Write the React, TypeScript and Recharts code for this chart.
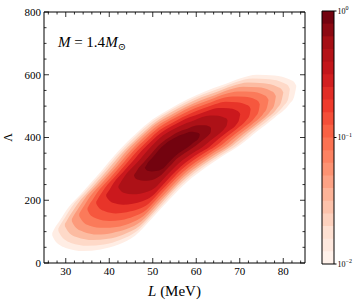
import { Area, ComposedChart, Label, ReferenceArea, ReferenceDot, XAxis, YAxis } from "recharts"

// contour rows: [L (MeV), lower Λ, upper Λ], outermost (1e-2) level first
type Row = [number, number, number]

const level0: Row[] = [
  [26.9, 88, 96], [27.5, 72, 112], [28.5, 58, 132], [30, 48, 165], [34, 38, 228],
  [38, 43, 290], [42, 58, 355], [46, 88, 410], [50, 145, 458], [54, 205, 492],
  [58, 260, 522], [62, 303, 547], [66, 340, 567], [70, 375, 588], [74, 420, 600],
  [78, 463, 598], [81.5, 508, 585], [82.5, 530, 577], [83, 563, 565],
]
const level1: Row[] = [
  [28.3, 102, 110], [28.9, 87, 125], [29.8, 74, 144], [31.2, 64, 175], [35.0, 55, 235],
  [38.8, 59, 294], [42.6, 74, 355], [46.4, 102, 408], [50.2, 156, 453], [54.0, 213, 486],
  [57.8, 265, 514], [61.6, 306, 538], [65.4, 341, 557], [69.2, 374, 577], [73.0, 417, 588],
  [76.8, 458, 586], [80.1, 501, 574], [81.1, 522, 566], [81.5, 553, 555],
]
const level2: Row[] = [
  [29.8, 117, 125], [30.4, 103, 139], [31.2, 91, 157], [32.6, 82, 186], [36.2, 73, 243],
  [39.7, 77, 298], [43.3, 91, 356], [46.9, 117, 405], [50.5, 168, 448], [54.0, 222, 479],
  [57.6, 271, 505], [61.2, 310, 528], [64.8, 343, 546], [68.3, 374, 564], [71.9, 414, 575],
  [75.5, 453, 573], [78.6, 493, 562], [79.5, 513, 555], [80.0, 542, 544],
]
const level3: Row[] = [
  [31.4, 133, 140], [31.9, 120, 153], [32.7, 108, 170], [34.0, 100, 198], [37.3, 91, 250],
  [40.7, 96, 302], [44.0, 108, 357], [47.4, 133, 403], [50.7, 181, 443], [54.1, 231, 471],
  [57.4, 277, 496], [60.8, 313, 517], [64.1, 344, 534], [67.5, 373, 552], [70.8, 411, 562],
  [74.2, 447, 560], [77.1, 485, 549], [77.9, 503, 542], [78.3, 531, 532],
]
const level4: Row[] = [
  [33.1, 150, 157], [33.6, 138, 169], [34.3, 127, 184], [35.5, 119, 210], [38.6, 112, 259],
  [41.7, 115, 307], [44.8, 127, 357], [47.9, 150, 400], [51.0, 195, 437], [54.1, 241, 463],
  [57.2, 284, 487], [60.3, 317, 506], [63.4, 346, 522], [66.5, 373, 538], [69.6, 408, 547],
  [72.7, 441, 546], [75.4, 476, 536], [76.2, 493, 529], [76.6, 518, 520],
]
const level5: Row[] = [
  [35.0, 169, 175], [35.4, 158, 186], [36.1, 148, 200], [37.2, 141, 224], [40.0, 134, 268],
  [42.8, 137, 312], [45.6, 148, 358], [48.5, 169, 397], [51.3, 210, 431], [54.1, 252, 455],
  [57.0, 291, 476], [59.8, 321, 494], [62.6, 347, 508], [65.4, 372, 523], [68.3, 404, 531],
  [71.1, 434, 530], [73.6, 466, 521], [74.3, 482, 515], [74.6, 505, 506],
]
const level6: Row[] = [
  [37.0, 190, 195], [37.4, 180, 205], [38.0, 171, 218], [39.0, 165, 239], [41.5, 158, 278],
  [44.0, 162, 318], [46.6, 171, 359], [49.1, 190, 393], [51.6, 226, 424], [54.2, 264, 445],
  [56.7, 299, 464], [59.2, 326, 480], [61.7, 349, 493], [64.3, 371, 506], [66.8, 400, 514],
  [69.3, 427, 512], [71.5, 455, 504], [72.2, 469, 499], [72.5, 490, 491],
]
const level7: Row[] = [
  [39.3, 213, 218], [39.7, 204, 226], [40.2, 197, 237], [41.0, 191, 255], [43.2, 186, 290],
  [45.4, 189, 324], [47.6, 197, 360], [49.8, 213, 390], [52.0, 244, 416], [54.2, 277, 435],
  [56.4, 307, 451], [58.6, 331, 465], [60.8, 351, 476], [63.0, 370, 487], [65.1, 395, 494],
  [67.3, 419, 493], [69.3, 443, 486], [69.8, 455, 481], [70.1, 473, 475],
]
const level8: Row[] = [
  [42.1, 241, 245], [42.4, 234, 252], [42.8, 228, 261], [43.5, 223, 276], [45.3, 219, 304],
  [47.1, 221, 331], [48.9, 228, 360], [50.6, 241, 385], [52.4, 267, 407], [54.2, 293, 422],
  [56.0, 318, 435], [57.8, 337, 446], [59.6, 354, 455], [61.4, 369, 465], [63.2, 390, 470],
  [65.0, 409, 469], [66.5, 429, 463], [67.0, 439, 460], [67.2, 453, 454],
]
const level9: Row[] = [
  [45.7, 278, 280], [45.9, 272, 285], [46.2, 268, 291], [46.7, 265, 302], [48.0, 262, 322],
  [49.2, 263, 341], [50.5, 268, 362], [51.7, 278, 379], [53.0, 296, 394], [54.3, 314, 405],
  [55.5, 332, 415], [56.8, 345, 423], [58.1, 357, 429], [59.3, 368, 436], [60.6, 382, 439],
  [61.9, 396, 439], [63.0, 410, 435], [63.3, 417, 432], [63.4, 428, 428],
]
const level10: Row[] = [
  [48.2, 303, 305], [48.4, 299, 308], [48.6, 296, 313], [48.9, 294, 320], [49.8, 292, 334],
  [50.7, 293, 348], [51.6, 296, 363], [52.5, 303, 375], [53.4, 316, 386], [54.3, 329, 393],
  [55.2, 341, 400], [56.1, 351, 406], [57.0, 359, 410], [57.9, 367, 415], [58.8, 377, 418],
  [59.7, 387, 417], [60.5, 397, 414], [60.7, 402, 412], [60.8, 409, 410],
]

const levels = [level0, level1, level2, level3, level4, level5, level6, level7, level8, level9, level10]
const levelColors = [
  "#ffede4", "#fed9c8", "#fcbba1", "#fc9a7b", "#fb7a5a", "#f6573e",
  "#e83429", "#cb181d", "#ad1117", "#8c0912", "#73030f",
]

const xTicks = [30, 40, 50, 60, 70, 80]
const xMinor = [26, 28, 32, 34, 36, 38, 42, 44, 46, 48, 52, 54, 56, 58, 62, 64, 66, 68, 72, 74, 76, 78, 82, 84]
const yTicks = [0, 200, 400, 600, 800]
const yMinor = [50, 100, 150, 250, 300, 350, 450, 500, 550, 650, 700, 750]

// colorbar: lower edge of each of the 20 bands
const cbLevels = [
  0.01, 0.01259, 0.01585, 0.01995, 0.02512, 0.03162, 0.03981, 0.05012, 0.0631, 0.07943,
  0.1, 0.1259, 0.1585, 0.1995, 0.2512, 0.3162, 0.3981, 0.5012, 0.631, 0.7943,
]
const cbColors = [
  "#fff1ea", "#fee8de", "#fee0d2", "#fdd1be", "#fcc2ab", "#fcb398", "#fca285", "#fc9272", "#fc8262", "#fb7252",
  "#f96144", "#f44e38", "#ef3b2c", "#e12d26", "#d21f20", "#c3161b", "#b41318", "#a50f15", "#8c0912", "#73030f",
]
const cbTicks = [0.01, 0.1, 1]
const cbExp = ["\u22122", "\u22121", "0"]

const font = '"Liberation Serif", "DejaVu Serif", serif'

// plot frame (margins below put it here)
const TOP = 12
const BOTTOM = 263
const LEFT = 44
const RIGHT = 305

// one table keyed by L, one [lo, hi] column per contour level
const table = (() => {
  const byX = new Map<number, any>()
  levels.forEach((lv, i) =>
    lv.forEach(([x, lo, hi]) => {
      const row = byX.get(x) ?? { x }
      row["c" + i] = [lo, hi]
      byX.set(x, row)
    })
  )
  return [...byX.values()].sort((a, b) => a.x - b.x)
})()

const xAll = [...xTicks, ...xMinor].sort((a, b) => a - b)
const yAll = [...yTicks, ...yMinor].sort((a, b) => a - b)

// inward ticks on both sides + label for majors
const XTick = (p: any) => {
  const major = xTicks.includes(p.payload.value)
  const len = major ? 5 : 2.5
  return (
    <g>
      <line x1={p.x} x2={p.x} y1={BOTTOM} y2={BOTTOM - len} stroke="#000" strokeWidth={0.8} />
      <line x1={p.x} x2={p.x} y1={TOP} y2={TOP + len} stroke="#000" strokeWidth={0.8} />
      {major && (
        <text x={p.x} y={p.y} dy="0.71em" textAnchor="middle" fontSize={11} fontFamily={font} fill="#000">
          {p.payload.value}
        </text>
      )}
    </g>
  )
}

const YTick = (p: any) => {
  const major = yTicks.includes(p.payload.value)
  const len = major ? 5 : 2.5
  return (
    <g>
      <line x1={LEFT} x2={LEFT + len} y1={p.y} y2={p.y} stroke="#000" strokeWidth={0.8} />
      <line x1={RIGHT} x2={RIGHT - len} y1={p.y} y2={p.y} stroke="#000" strokeWidth={0.8} />
      {major && (
        <text x={p.x} y={p.y} dy="0.35em" textAnchor="end" fontSize={11} fontFamily={font} fill="#000">
          {p.payload.value}
        </text>
      )}
    </g>
  )
}

const CbTick = (p: any) => {
  const i = cbTicks.findIndex((t) => Math.abs(t - p.payload.value) < t * 0.01)
  return (
    <text x={p.x} y={p.y} dy="0.32em" fontSize={8} fontFamily={font} fill="#000" textAnchor="start">
      10
      <tspan dy={-3.5} fontSize={6}>
        {cbExp[i]}
      </tspan>
    </text>
  )
}

export default function App() {
  return (
    <div style={{ position: "absolute", left: 0, top: 0, width: 359, height: 304, background: "#fff" }}>
      <div style={{ position: "absolute", left: 0, top: 0 }}>
        <ComposedChart width={359} height={304} data={table} margin={{ top: TOP, right: 359 - RIGHT, bottom: 11, left: 8 }}>
          <XAxis
            dataKey="x"
            type="number"
            domain={[25, 85]}
            allowDataOverflow
            ticks={xAll}
            interval={0}
            height={30}
            axisLine={false}
            tickLine={false}
            tickSize={3}
            tickMargin={1}
            tick={<XTick />}
          >
            <Label
              content={(p: any) => (
                <text
                  x={p.viewBox.x + p.viewBox.width / 2}
                  y={p.viewBox.y + 33}
                  textAnchor="middle"
                  fontSize={15}
                  fontFamily={font}
                  fill="#000"
                >
                  <tspan fontStyle="italic">L</tspan> (MeV)
                </text>
              )}
            />
          </XAxis>
          <YAxis
            type="number"
            domain={[0, 800]}
            allowDataOverflow
            ticks={yAll}
            interval={0}
            width={36}
            axisLine={false}
            tickLine={false}
            tickSize={3}
            tickMargin={0}
            tick={<YTick />}
          >
            <Label
              content={(p: any) => {
                const x = p.viewBox.x + 4
                const y = p.viewBox.y + p.viewBox.height / 2
                return (
                  <text x={x} y={y} transform={`rotate(-90 ${x} ${y})`} textAnchor="middle" fontSize={12} fontFamily={font} fill="#000">
                    Λ
                  </text>
                )
              }}
            />
          </YAxis>

          {levels.map((_, i) => (
            <Area
              key={i}
              dataKey={"c" + i}
              type="monotone"
              fill={levelColors[i]}
              fillOpacity={1}
              stroke="none"
              connectNulls
              dot={false}
              activeDot={false}
              isAnimationActive={false}
            />
          ))}

          <ReferenceArea x1={25} x2={85} y1={0} y2={800} fill="none" stroke="#000" strokeWidth={1} />

          <ReferenceDot
            x={28.2}
            y={688}
            r={0}
            fill="none"
            stroke="none"
            label={{
              content: (p: any) => (
                <text x={p.viewBox.x} y={p.viewBox.y} fontSize={15} fontFamily={font} fill="#000">
                  <tspan fontStyle="italic">M</tspan>
                  <tspan> = 1.4</tspan>
                  <tspan fontStyle="italic">M</tspan>
                  <tspan dy={3} fontSize={10}>⊙</tspan>
                </text>
              ),
            }}
          />
        </ComposedChart>
      </div>

      <div style={{ position: "absolute", left: 0, top: 0 }}>
        <ComposedChart width={359} height={304} data={[{ x: 0.5 }]} margin={{ top: 11, right: 0, bottom: 40, left: 322 }}>
          <XAxis dataKey="x" type="number" domain={[0, 1]} hide />
          <YAxis
            type="number"
            scale="log"
            domain={[0.01, 1]}
            allowDataOverflow
            orientation="right"
            width={25}
            ticks={cbTicks}
            interval={0}
            tickSize={2.5}
            tickMargin={1}
            stroke="#000"
            axisLine={false}
            tick={<CbTick />}
          />
          {cbLevels.map((lv, k) => (
            <ReferenceArea key={k} x1={0} x2={1} y1={lv} y2={1} fill={cbColors[k]} fillOpacity={1} stroke="none" />
          ))}
          <ReferenceArea x1={0} x2={1} y1={0.01} y2={1} fill="none" stroke="#000" strokeWidth={1} />
        </ComposedChart>
      </div>
    </div>
  )
}
